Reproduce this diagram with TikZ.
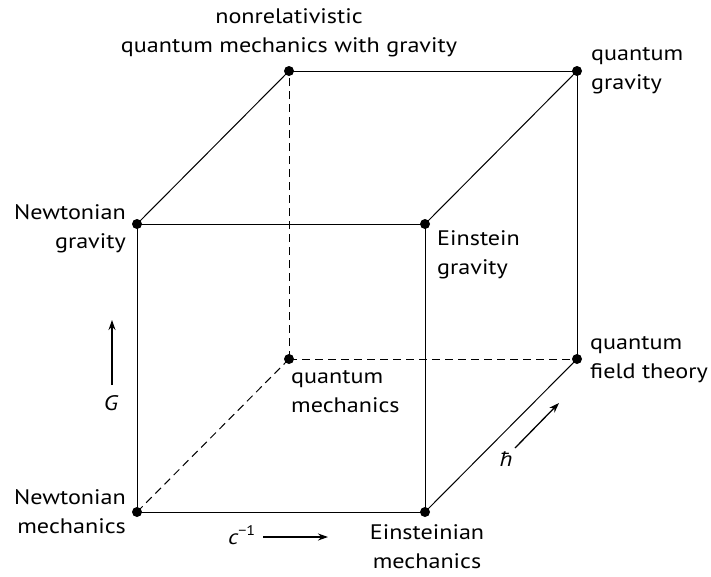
\documentclass[tikz,border=0pt]{standalone}
\usepackage{fontspec}
\setmainfont{PT Sans}[FakeStretch=1.15]
\usetikzlibrary{arrows.meta}
\begin{document}
\begin{tikzpicture}[x=1pt,y=-1pt,
  dot/.style={circle,fill=black,inner sep=0pt,minimum size=10pt},
  edge/.style={line width=1pt},
  hidden/.style={line width=1pt,dash pattern=on 8pt off 5pt},
  lbl/.style={font=\fontsize{21}{28.5}\selectfont,inner sep=0pt},
  ax/.style={line width=1.3pt,-{Stealth[length=10pt,width=7pt]}}]
\useasboundingbox (0,0) rectangle (711,576);
% corners
\node[dot] (NM) at (137,512) {};
\node[dot] (EM) at (425,512) {};
\node[dot] (NG) at (137,224) {};
\node[dot] (EG) at (425,224) {};
\node[dot] (QM) at (289,359) {};
\node[dot] (QFT) at (577,359) {};
\node[dot] (NQ) at (289,71) {};
\node[dot] (QG) at (577,71) {};
% hidden edges
\draw[hidden] (NM.center) -- (QM.center);
\draw[hidden] (QM.center) -- (QFT.center);
\draw[hidden] (QM.center) -- (NQ.center);
% visible edges
\draw[edge] (NM.center) -- (EM.center);
\draw[edge] (NM.center) -- (NG.center);
\draw[edge] (EM.center) -- (EG.center);
\draw[edge] (NG.center) -- (EG.center);
\draw[edge] (NG.center) -- (NQ.center);
\draw[edge] (EG.center) -- (QG.center);
\draw[edge] (NQ.center) -- (QG.center);
\draw[edge] (QG.center) -- (QFT.center);
\draw[edge] (EM.center) -- (QFT.center);
% labels (anchor = baseline of the last line)
\node[lbl,align=center,anchor=base] (tNQ) at (289,52) {nonrelativistic\\quantum mechanics with gravity};
\node[lbl,align=left,anchor=base west] (tQG) at (591,89) {quantum\\gravity};
\node[lbl,align=right,anchor=base east] (tNG) at (126,248) {Newtonian\\gravity};
\node[lbl,align=left,anchor=base west] (tEG) at (437,274) {Einstein\\gravity};
\node[lbl,align=left,anchor=base west] (tQFT) at (590,378) {quantum\\field theory};
\node[lbl,align=left,anchor=base west] (tQM) at (291,412) {quantum\\mechanics};
\node[lbl,align=right,anchor=base east] (tNM) at (126,533) {Newtonian\\mechanics};
\node[lbl,align=center,anchor=base] (tEM) at (427,568) {Einsteinian\\mechanics};
% axis arrows
\node[lbl,anchor=base] (tG) at (111,410) {\itshape G};
\coordinate (Ga) at (112,385);
\coordinate (Gb) at (112,320);
\draw[ax] (Ga) -- (Gb);
\node[lbl,anchor=base west] (tc) at (228,544) {\itshape c\raisebox{0.42em}{\upshape\fontsize{14}{14}\selectfont −1}};
\coordinate (ca) at (263,537);
\coordinate (cb) at (328,537);
\draw[ax] (ca) -- (cb);
\node[lbl,anchor=base] (th) at (506,466) {\itshape ħ};
\coordinate (ha) at (515,448);
\coordinate (hb) at (559,403);
\draw[ax] (ha) -- (hb);
\end{tikzpicture}
\end{document}
